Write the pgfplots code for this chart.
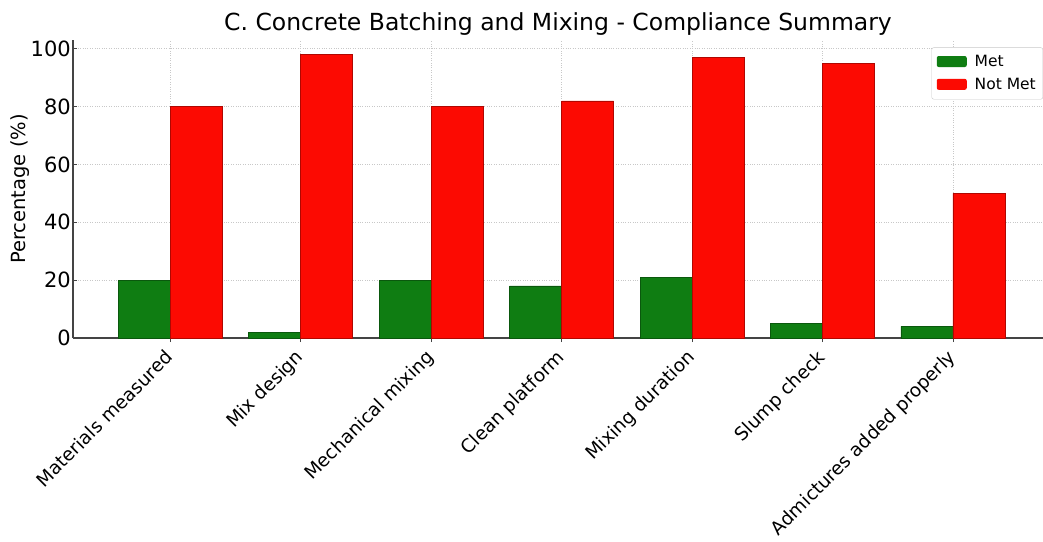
\documentclass[border=0pt]{standalone}
\usepackage{pgfplots}
\pgfplotsset{compat=1.18}
\usepackage{fontspec}
\setmainfont{DejaVu Sans}
\definecolor{metg}{HTML}{0F7D12}
\definecolor{notr}{HTML}{FC0A02}
\definecolor{gridc}{HTML}{C8C8C8}
\definecolor{spine}{HTML}{444444}
\begin{document}
\begin{tikzpicture}
\begin{axis}[
  scale only axis,
  width=970bp, height=298bp,
  at={(0,0)}, anchor=south west,
  ybar=0pt, bar width=52bp,
  xmin=-0.745, xmax=6.69,
  ymin=0, ymax=103,
  xtick={0,...,6},
  xticklabels={Materials measured,Mix design,Mechanical mixing,Clean platform,Mixing duration,Slump check,Admictures added properly},
  ytick={0,20,40,60,80,100},
  /pgf/number format/assume math mode=true,
  axis x line*=bottom, axis y line*=left,
  axis line style={spine, line width=1.2pt, -},
  major tick length=4bp,
  tick style={spine, line width=0.6pt},
  xmajorgrids, ymajorgrids,
  grid style={gridc, dotted, line width=0.8pt},
  x tick label style={rotate=45, anchor=north east, font=\fontsize{18.5bp}{20bp}\selectfont, inner sep=1bp, xshift=-8bp, yshift=1bp},
  y tick label style={font=\fontsize{21bp}{24bp}\selectfont, inner sep=2bp},
  ylabel={Percentage (\%)},
  ylabel style={font=\fontsize{19.5bp}{22bp}\selectfont, yshift=-4bp},
  title={C. Concrete Batching and Mixing - Compliance Summary},
  title style={font=\fontsize{23.5bp}{26bp}\selectfont, at={(0.5,1)}, anchor=south, yshift=-5bp},
  legend style={at={(1,0.975)}, anchor=north east, font=\fontsize{15.5bp}{18bp}\selectfont,
    draw=gridc, rounded corners=2pt, fill=white, inner xsep=5bp, inner ysep=6bp, row sep=6bp,
    /tikz/every even column/.append style={column sep=0bp}},
  legend image code/.code={\draw[#1, draw=none] (0cm,-5bp) rectangle (30bp,6bp);},
  legend cell align=left,
  enlargelimits=false,
]
\addplot[fill=metg, draw=metg!70!black, line width=0.4pt] coordinates {(0,20) (1,2) (2,20) (3,18) (4,21) (5,5) (6,4)};
\addlegendentry{\hspace{6bp}Met}
\addplot[fill=notr, draw=notr!70!black, line width=0.4pt] coordinates {(0,80) (1,98) (2,80) (3,82) (4,97) (5,95) (6,50)};
\addlegendentry{\hspace{6bp}Not Met}
\end{axis}
\pgfresetboundingbox
\path (-73bp,-204bp) rectangle (970bp,338bp);
\end{tikzpicture}
\end{document}
